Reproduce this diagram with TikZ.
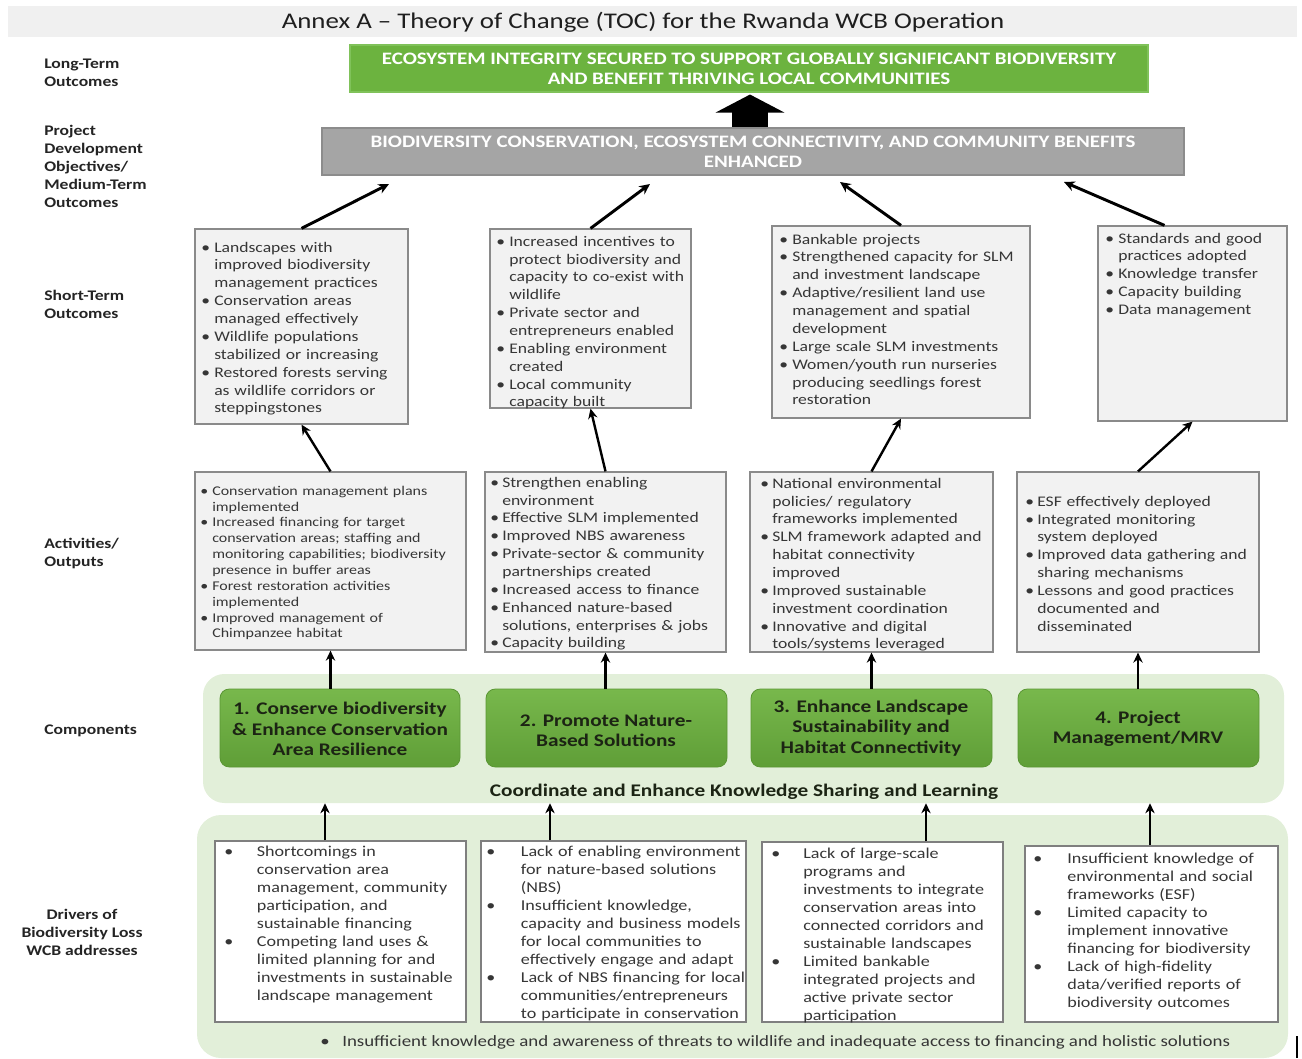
\documentclass[tikz,border=0pt]{standalone}
\usepackage{fontspec}
\setmainfont{Carlito}[FakeStretch=1.2]
\usetikzlibrary{fit,calc,arrows.meta}
\setlength{\parskip}{0pt}
\newlength{\hangw}
\newcommand{\lnbr}{\hfil\break}
\newcommand{\bitem}[1]{\par\noindent\hangindent=\hangw\hangafter=1\makebox[\hangw][l]{•}#1\par}
\definecolor{titlebg}{HTML}{F0F0F0}
\definecolor{titletext}{HTML}{1E1E1E}
\definecolor{ltgreen}{HTML}{6CB33F}
\definecolor{ltgreenline}{HTML}{80C25A}
\definecolor{pdogray}{HTML}{A5A5A5}
\definecolor{pdoline}{HTML}{8C8C8C}
\definecolor{boxfill}{HTML}{F2F2F2}
\definecolor{boxline}{HTML}{8A8A8A}
\definecolor{drline}{HTML}{7F7F7F}
\definecolor{bgreen}{HTML}{E2EFD9}
\definecolor{cTop}{HTML}{78B84C}
\definecolor{cBot}{HTML}{5F9E37}
\definecolor{cLine}{HTML}{5A9634}
\definecolor{ctext}{HTML}{1C2414}
\definecolor{bodytext}{HTML}{363636}
\definecolor{labeltext}{HTML}{242424}
\begin{document}
\begin{tikzpicture}[x=0.75pt,y=-0.75pt,
  stbox/.style={draw=boxline, fill=boxfill, line width=0.9pt, inner sep=0pt},
  drbox/.style={draw=drline, fill=white, line width=0.9pt, inner sep=0pt},
  bgbox/.style={fill=bgreen, inner sep=0pt, rounded corners=16pt},
  comp/.style={top color=cTop, bottom color=cBot, draw=cLine, line width=0.6pt, rounded corners=7pt, inner sep=0pt},
  comptxt/.style={inner sep=0pt, text=ctext, align=center, font=\bfseries\fontsize{13.3}{15.3}\selectfont},
  captxt/.style={inner sep=0pt, text=white, align=center, font=\bfseries\fontsize{13.1}{14.8}\selectfont},
  txt/.style={anchor=north west, inner sep=0pt, text=bodytext, font=\fontsize{11}{13.4}\selectfont},
  drtxt/.style={anchor=north west, inner sep=0pt, text=bodytext, font=\fontsize{11.3}{13.55}\selectfont},
  smalltxt/.style={anchor=north west, inner sep=0pt, text=bodytext, font=\fontsize{10}{11.9}\selectfont},
  hangset/.style={execute at begin node={\setlength{\hangw}{#1}}},
  lbl/.style={inner sep=0pt, text=labeltext, align=left, font=\bfseries\fontsize{11}{13.4}\selectfont},
  arr/.style={line width=1.8pt, -{Stealth[length=7.5pt,width=7pt]}},
  arrthick/.style={line width=2.2pt, -{Stealth[length=8pt,width=7.5pt]}},
  bigarrow/.style={line width=27pt, -{Triangle[length=13.5pt,width=51pt]}}
]
\useasboundingbox (0,0) rectangle (1302,1059);

% title
\node[fit={(8,6) (1297,37)}, fill=titlebg, inner sep=0pt] (tbar) {};
\node[inner sep=0pt, text=titletext, font=\fontsize{16.8}{20}\selectfont] (title) at (643,22) {Annex A – Theory of Change (TOC) for the Rwanda WCB Operation};

% left labels
\node[lbl, anchor=north west] (l1) at (44,59) {Long-Term\\Outcomes};
\node[lbl, anchor=north west] (l2) at (44,125) {Project\\Development\\Objectives/\\Medium-Term\\Outcomes};
\node[lbl, anchor=north west] (l3) at (44,290) {Short-Term\\Outcomes};
\node[lbl, anchor=north west] (l4) at (44,538) {Activities/\\Outputs};
\node[lbl, anchor=west] (l5) at (44,731) {Components};
\node[lbl, anchor=north, align=center] (l6) at (82,909) {Drivers of\\Biodiversity Loss\\WCB addresses};

% long-term and PDO
\node[fit={(350,45) (1148,92)}, fill=ltgreen, draw=ltgreenline, line width=0.8pt, inner sep=0pt] (lt) {};
\node[captxt] (ltt) at (749,69) {ECOSYSTEM INTEGRITY SECURED TO SUPPORT GLOBALLY SIGNIFICANT BIODIVERSITY\\AND BENEFIT THRIVING LOCAL COMMUNITIES};
\node[fit={(322,128) (1184,175)}, fill=pdogray, draw=pdoline, line width=1.2pt, inner sep=0pt] (pdo) {};
\node[captxt] (pdot) at (753,152) {BIODIVERSITY CONSERVATION, ECOSYSTEM CONNECTIVITY, AND COMMUNITY BENEFITS\\ENHANCED};
\coordinate (bx) at (750,0);
\draw[bigarrow] (bx |- pdo.north) -- ($(bx |- lt.south)+(0,2)$);

% short-term boxes
\node[stbox, fit={(195,229) (408,424)}] (s1) {};
\node[stbox, fit={(490,229) (691,408)}] (s2) {};
\node[stbox, fit={(772,226) (1030,418)}] (s3) {};
\node[stbox, fit={(1098,226) (1287,421)}] (s4) {};
\node[txt, hangset=9.75pt, text width=190pt] (s1t) at (201,234) {%
\bitem{Landscapes with\lnbr improved biodiversity\lnbr management practices}%
\bitem{Conservation areas\lnbr managed effectively}%
\bitem{Wildlife populations\lnbr stabilized or increasing}%
\bitem{Restored forests serving\lnbr as wildlife corridors or\lnbr steppingstones}};
\node[txt, hangset=9.75pt, text width=190pt] (s2t) at (496,228) {%
\bitem{Increased incentives to\lnbr protect biodiversity and\lnbr capacity to co-exist with\lnbr wildlife}%
\bitem{Private sector and\lnbr entrepreneurs enabled}%
\bitem{Enabling environment\lnbr created}%
\bitem{Local community\lnbr capacity built}};
\node[txt, hangset=9.75pt, text width=230pt] (s3t) at (779,226) {%
\bitem{Bankable projects}%
\bitem{Strengthened capacity for SLM\lnbr and investment landscape}%
\bitem{Adaptive/resilient land use\lnbr management and spatial\lnbr development}%
\bitem{Large scale SLM investments}%
\bitem{Women/youth run nurseries\lnbr producing seedlings forest\lnbr restoration}};
\node[txt, hangset=9.75pt, text width=180pt] (s4t) at (1105,225) {%
\bitem{Standards and good\lnbr practices adopted}%
\bitem{Knowledge transfer}%
\bitem{Capacity building}%
\bitem{Data management}};

% short-term to PDO arrows
\coordinate (p1) at (389,184);
\coordinate (p2) at (650,184);
\coordinate (p3) at (840,182);
\coordinate (p4) at (1064,182);
\draw[arrthick] (s1.north) -- (p1);
\draw[arrthick] (s2.north) -- (p2);
\draw[arrthick] (s3.north) -- (p3);
\draw[arrthick] ($(s4.north)+(-28,0)$) -- (p4);

% activities
\node[stbox, fit={(195,472) (466,650)}] (a1) {};
\node[stbox, fit={(485,472) (726,652)}] (a2) {};
\node[stbox, fit={(750,472) (993,652)}] (a3) {};
\node[stbox, fit={(1017,472) (1259,652)}] (a4) {};
\node[smalltxt, hangset=9pt, text width=230pt] (a1t) at (200,479) {%
\bitem{Conservation management plans\lnbr implemented}%
\bitem{Increased financing for target\lnbr conservation areas; staffing and\lnbr monitoring capabilities; biodiversity\lnbr presence in buffer areas}%
\bitem{Forest restoration activities\lnbr implemented}%
\bitem{Improved management of\lnbr Chimpanzee habitat}};
\node[txt, hangset=9pt, text width=210pt] (a2t) at (490,469) {%
\bitem{Strengthen enabling\lnbr environment}%
\bitem{Effective SLM implemented}%
\bitem{Improved NBS awareness}%
\bitem{Private-sector \& community\lnbr partnerships created}%
\bitem{Increased access to finance}%
\bitem{Enhanced nature-based\lnbr solutions, enterprises \& jobs}%
\bitem{Capacity building}};
\node[txt, hangset=9pt, text width=210pt] (a3t) at (760,470) {%
\bitem{National environmental\lnbr policies/ regulatory\lnbr frameworks implemented}%
\bitem{SLM framework adapted and\lnbr habitat connectivity\lnbr improved}%
\bitem{Improved sustainable\lnbr investment coordination}%
\bitem{Innovative and digital\lnbr tools/systems leveraged}};
\node[txt, hangset=9pt, text width=210pt] (a4t) at (1025,488) {%
\bitem{ESF effectively deployed}%
\bitem{Integrated monitoring\lnbr system deployed}%
\bitem{Improved data gathering and\lnbr sharing mechanisms}%
\bitem{Lessons and good practices\lnbr documented and\lnbr disseminated}};

\draw[arr] (a1.north) -- (s1.south);
\draw[arr] (a2.north) -- (s2.south);
\draw[arr] (a3.north) -- (s3.south);
\draw[arr] (a4.north) -- (s4.south);

% components
\node[bgbox, fit={(203,674) (1284,803)}] (cbg) {};
\node[comp, fit={(220,689) (460,767)}] (c1) {};
\node[comp, fit={(486,689) (727,767)}] (c2) {};
\node[comp, fit={(751,689) (992,767)}] (c3) {};
\node[comp, fit={(1018,689) (1259,767)}] (c4) {};
\node[comptxt] (c1t) at (340,729) {1. Conserve biodiversity\\\& Enhance Conservation\\Area Resilience};
\node[comptxt] (c2t) at (606,731) {2. Promote Nature-\\Based Solutions};
\node[comptxt] (c3t) at (871,728) {3. Enhance Landscape\\Sustainability and\\Habitat Connectivity};
\node[comptxt] (c4t) at (1138,729) {4. Project\\Management/MRV};
\node[inner sep=0pt, text=ctext, font=\bfseries\fontsize{13.3}{15}\selectfont] (coord) at (744,792) {Coordinate and Enhance Knowledge Sharing and Learning};

\draw[arr] (a1.south |- c1.north) -- (a1.south);
\draw[arr] (a2.south |- c2.north) -- (a2.south);
\draw[arr] (a3.south |- c3.north) -- (a3.south);
\draw[arr] (a4.south |- c4.north) -- (a4.south);

% drivers
\node[bgbox, rounded corners=18pt, fit={(197,815) (1288,1058)}] (dbg) {};
\node[drbox, fit={(215,841) (466,1022)}] (d1) {};
\node[drbox, fit={(481,841) (746,1022)}] (d2) {};
\node[drbox, fit={(762,842) (1003,1022)}] (d3) {};
\node[drbox, fit={(1025,846) (1278,1022)}] (d4) {};
\node[drtxt, hangset=24.5pt, text width=220pt] (d1t) at (224,838) {%
\bitem{Shortcomings in\lnbr conservation area\lnbr management, community\lnbr participation, and\lnbr sustainable financing}%
\bitem{Competing land uses \&\lnbr limited planning for and\lnbr investments in sustainable\lnbr landscape management}};
\node[drtxt, hangset=26pt, text width=230pt] (d2t) at (486,838) {%
\bitem{Lack of enabling environment\lnbr for nature-based solutions\lnbr (NBS)}%
\bitem{Insufficient knowledge,\lnbr capacity and business models\lnbr for local communities to\lnbr effectively engage and adapt}%
\bitem{Lack of NBS financing for local\lnbr communities/entrepreneurs\lnbr to participate in conservation}};
\node[drtxt, hangset=24pt, text width=220pt] (d3t) at (771,840) {%
\bitem{Lack of large-scale\lnbr programs and\lnbr investments to integrate\lnbr conservation areas into\lnbr connected corridors and\lnbr sustainable landscapes}%
\bitem{Limited bankable\lnbr integrated projects and\lnbr active private sector\lnbr participation}};
\node[drtxt, hangset=25.5pt, text width=220pt] (d4t) at (1033,845) {%
\bitem{Insufficient knowledge of\lnbr environmental and social\lnbr frameworks (ESF)}%
\bitem{Limited capacity to\lnbr implement innovative\lnbr financing for biodiversity}%
\bitem{Lack of high-fidelity\lnbr data/verified reports of\lnbr biodiversity outcomes}};
\node[inner sep=0pt, anchor=west, text=bodytext, font=\fontsize{11.8}{13.5}\selectfont] (bline) at (320,1042) {\makebox[16.5pt][l]{•}Insufficient knowledge and awareness of threats to wildlife and inadequate access to financing and holistic solutions};

\coordinate (dx1) at (325,0);
\coordinate (dx2) at (550,0);
\coordinate (dx3) at (926,0);
\coordinate (dx4) at (1150,0);
\draw[arr] (dx1 |- d1.north) -- (dx1 |- cbg.south);
\draw[arr] (dx2 |- d2.north) -- (dx2 |- cbg.south);
\draw[arr] (dx3 |- d3.north) -- (dx3 |- cbg.south);
\draw[arr] (dx4 |- d4.north) -- (dx4 |- cbg.south);

% edge mark
\coordinate (m1) at (1297,1036);
\coordinate (m2) at (1297,1058);
\draw[line width=1.5pt] (m1) -- (m2);
\end{tikzpicture}
\end{document}
